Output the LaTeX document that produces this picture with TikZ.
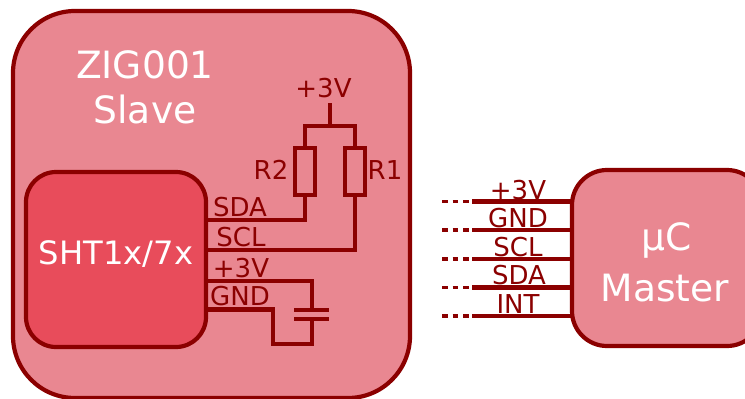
\documentclass[tikz,border=0pt]{standalone}
\usepackage{fontspec}
\setmainfont{DejaVu Sans}
\definecolor{dark}{HTML}{8B0000}
\definecolor{outerfill}{HTML}{E98791}
\definecolor{innerfill}{HTML}{E84C5B}
\tikzset{
  x=1pt,y=-1pt,
  box/.style={draw=dark,line width=4.2pt,inner sep=0pt,outer sep=0pt,anchor=north west},
  resistor/.style={draw=dark,line width=4.4pt,inner sep=0pt,outer sep=0pt,minimum width=20pt,minimum height=47pt},
  wire/.style={draw=dark,line width=4.6pt,line cap=butt,line join=miter},
  stub/.style={draw=dark,line width=3.4pt,dash pattern=on 5.5pt off 5pt},
  big/.style={text=white,font=\fontsize{37.6}{44}\selectfont,anchor=base,inner sep=0pt},
  mid/.style={text=white,font=\fontsize{32.2}{38}\selectfont,anchor=base,inner sep=0pt},
  lab/.style={text=dark,font=\fontsize{26}{30}\selectfont,anchor=base,inner sep=0pt},
}
\begin{document}
\begin{tikzpicture}
\useasboundingbox (0,0) rectangle (745,399);
\clip (0,0) rectangle (745,399);
\fill[white] (0,0) rectangle (745,399);
% boxes
\node[box,fill=outerfill,rounded corners=62pt,minimum width=397pt,minimum height=387pt] (slave) at (13,11) {};
\node[box,fill=innerfill,rounded corners=30pt,minimum width=180pt,minimum height=175pt] (sensor) at (26,172) {};
\node[box,fill=outerfill,rounded corners=35pt,minimum width=190pt,minimum height=176pt] (master) at (572,170) {};
% resistors
\node[resistor] (R2) at (305,171.5) {};
\node[resistor] (R1) at (355,171.5) {};
% junction points
\coordinate (top) at (330,103);
\coordinate (topj) at (330,126);
\coordinate (sda) at (206,220);
\coordinate (scl) at (206,250);
\coordinate (vcc) at (206,281);
\coordinate (gnd) at (206,309.5);
\coordinate (capa) at (312,310);
\coordinate (capb) at (312,319);
\coordinate (capl) at (294,0);
\coordinate (capr) at (329,0);
% pull-ups
\draw[wire] (top) -- (topj);
\draw[wire] (R2.north) -- (R2.north |- topj) -- (R1.north |- topj) -- (R1.north);
\draw[wire] (sda) -- (sda -| R2.south) -- (R2.south);
\draw[wire] (scl) -- (scl -| R1.south) -- (R1.south);
% capacitor
\draw[wire] (vcc) -| (capa);
\draw[wire] (gnd) -- (273,309.5) -- (273,344) -- (312,344) -- (capb);
\draw[wire] (capl |- capa) -- (capr |- capa);
\draw[wire] (capl |- capb) -- (capr |- capb);
% master lines
\foreach \n/\y in {a/201.5,b/230,c/259,d/287.5,e/316}{
  \coordinate (m\n) at (572,\y);
  \coordinate (j\n) at (472,\y);
  \coordinate (s\n) at (442,\y);
  \draw[wire] (m\n) -- (j\n);
  \draw[stub] (s\n) -- (j\n);
}
% texts
\node[big] (t1) at (145,78) {ZIG001};
\node[big] (t2) at (145,123) {Slave};
\node[mid] (t3) at (116,264) {SHT1x/7x};
\node[big] (t4) at (667,250) {µC};
\node[big] (t5) at (665,301) {Master};
\node[lab] (l1) at (323.5,97) {+3V};
\node[lab] (l2) at (271,179) {R2};
\node[lab] (l3) at (385,179) {R1};
\node[lab] (l4) at (240,216) {SDA};
\node[lab] (l5) at (241,246) {SCL};
\node[lab] (l6) at (241,277) {+3V};
\node[lab] (l7) at (240,305.5) {GND};
\node[lab] (l8) at (518,199) {+3V};
\node[lab] (l9) at (518,227) {GND};
\node[lab] (l10) at (518,256) {SCL};
\node[lab] (l11) at (519,284.5) {SDA};
\node[lab] (l12) at (518,313) {INT};
\end{tikzpicture}
\end{document}
